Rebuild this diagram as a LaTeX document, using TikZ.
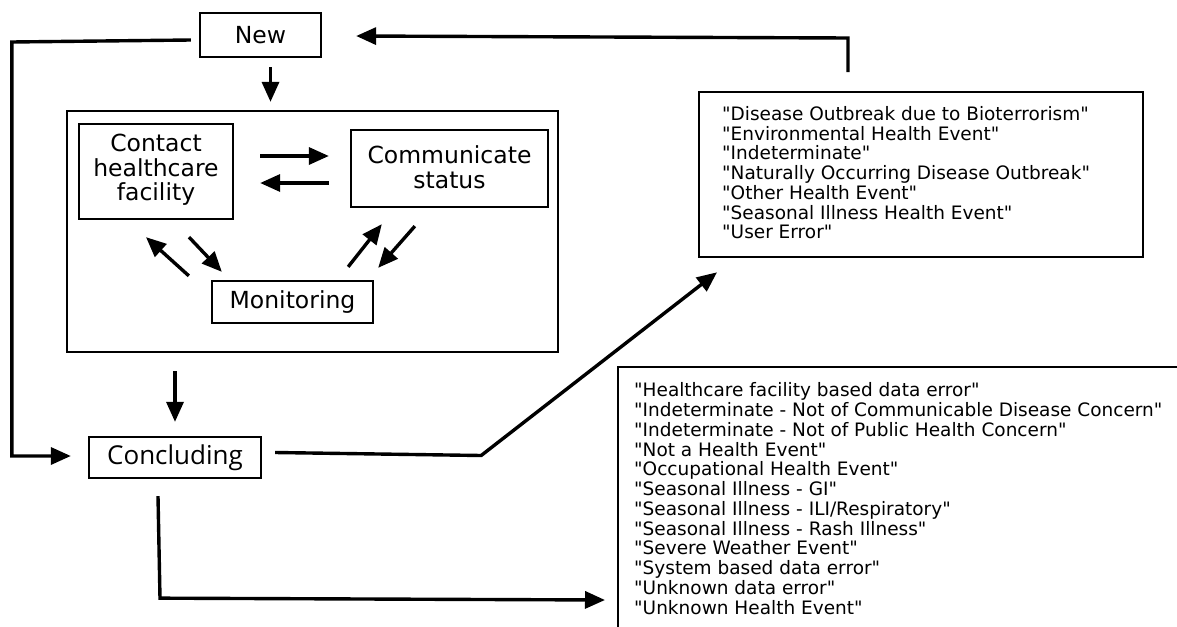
\documentclass[tikz,border=0pt]{standalone}
\usepackage{fontspec}
\setmainfont{DejaVu Sans}[Ligatures=TeXOff]
\newfontfamily\concfont{Open Sans}
\usetikzlibrary{arrows.meta,calc}
\begin{document}
\begin{tikzpicture}[x=1pt,y=-1pt,
  box/.style={draw,line width=2.3pt,inner sep=0pt,font=\fontsize{23.5}{24.5}\selectfont,align=center},
  lbl/.style={inner sep=0pt,font=\fontsize{23.5}{24.5}\selectfont,align=center},
  lst/.style={inner sep=0pt,anchor=north west,align=left,font=\fontsize{18.5}{19.75}\selectfont},
  arr/.style={line width=3.4pt,-{Triangle[length=20pt,width=17pt]}},
  link/.style={line width=3.4pt}]
\useasboundingbox (0,0) rectangle (1177,626);

% process boxes
\node[box,minimum width=121pt,minimum height=44pt] (new) at (260.5,35) {New};
\node[box,minimum width=491pt,minimum height=241pt] (cont) at (312.5,231.5) {};
\node[box,minimum width=154pt,minimum height=95pt] (contact) at (156,171.5) {};
\node[lbl] at ($(contact.center)+(0,-1.5)$) {Contact\\healthcare\\facility};
\node[box,minimum width=197pt,minimum height=77pt] (comm) at (449.5,168.5) {};
\node[lbl] at ($(comm.center)+(0,-1.5)$) {Communicate\\status};
\node[box,minimum width=161pt,minimum height=42pt] (mon) at (292.5,302) {Monitoring};
\node[box,minimum width=172pt,minimum height=41pt,font=\concfont\fontsize{26}{28}\selectfont] (conc) at (175,457.5) {Concluding};

% outcome lists
\node[draw,line width=2.3pt,anchor=north west,minimum width=444pt,minimum height=165pt,inner sep=0pt] (l1) at (698,91) {};
\node[lst] at (722,106) {"Disease Outbreak due to Bioterrorism"\\
"Environmental Health Event"\\
"Indeterminate"\\
"Naturally Occurring Disease Outbreak"\\
"Other Health Event"\\
"Seasonal Illness Health Event"\\
"User Error"};
\node[draw,line width=2.3pt,anchor=north west,minimum width=600pt,minimum height=300pt,inner sep=0pt] (l2) at (617,366) {};
\node[lst] at (634,382.5) {"Healthcare facility based data error"\\
"Indeterminate - Not of Communicable Disease Concern"\\
"Indeterminate - Not of Public Health Concern"\\
"Not a Health Event"\\
"Occupational Health Event"\\
"Seasonal Illness - GI"\\
"Seasonal Illness - ILI/Respiratory"\\
"Seasonal Illness - Rash Illness"\\
"Severe Weather Event"\\
"System based data error"\\
"Unknown data error"\\
"Unknown Health Event"};

% connectors
\draw[arr] ($(new.south)+(10,9)$) -- ($(cont.north -| new.south)+(10,-8)$);
\draw[arr] ($(contact.east)+(26,-15.5)$) -- ($(comm.west)+(-21,-12.5)$);
\draw[arr] ($(comm.west)+(-21,14.5)$) -- ($(contact.east)+(26,11.5)$);
\draw[arr] ($(mon.north west)+(-22,-4)$) -- ($(contact.south)+(-10,17)$);
\draw[arr] ($(contact.south)+(33,17)$) -- ($(mon.north west)+(11,-8)$);
\draw[arr] ($(mon.north east)+(-26,-13)$) -- ($(comm.south west)+(32,16)$);
\draw[arr] ($(comm.south west)+(65,18)$) -- ($(mon.north east)+(4,-12)$);
\draw[arr] ($(cont.south -| conc.north)+(0,18)$) -- ($(conc.north)+(0,-14)$);
\draw[arr] ($(new.west)+(-8,5)$) -- ++(-179,2) |- ($(conc.west)+(-17,-1.5)$);
\draw[arr] ($(conc.east)+(13,-5)$) -- ++(206,3) -- ($(l1.south west)+(19,14)$);
\draw[arr] ($(conc.south)+(-17,17)$) -- ++(2,102) -- ($(l2.north west)+(-12,234)$);
\draw[arr] ($(l1.north west)+(150,-19)$) -- ++(0,-34) -- ($(new.east)+(34,1)$);
\end{tikzpicture}
\end{document}
